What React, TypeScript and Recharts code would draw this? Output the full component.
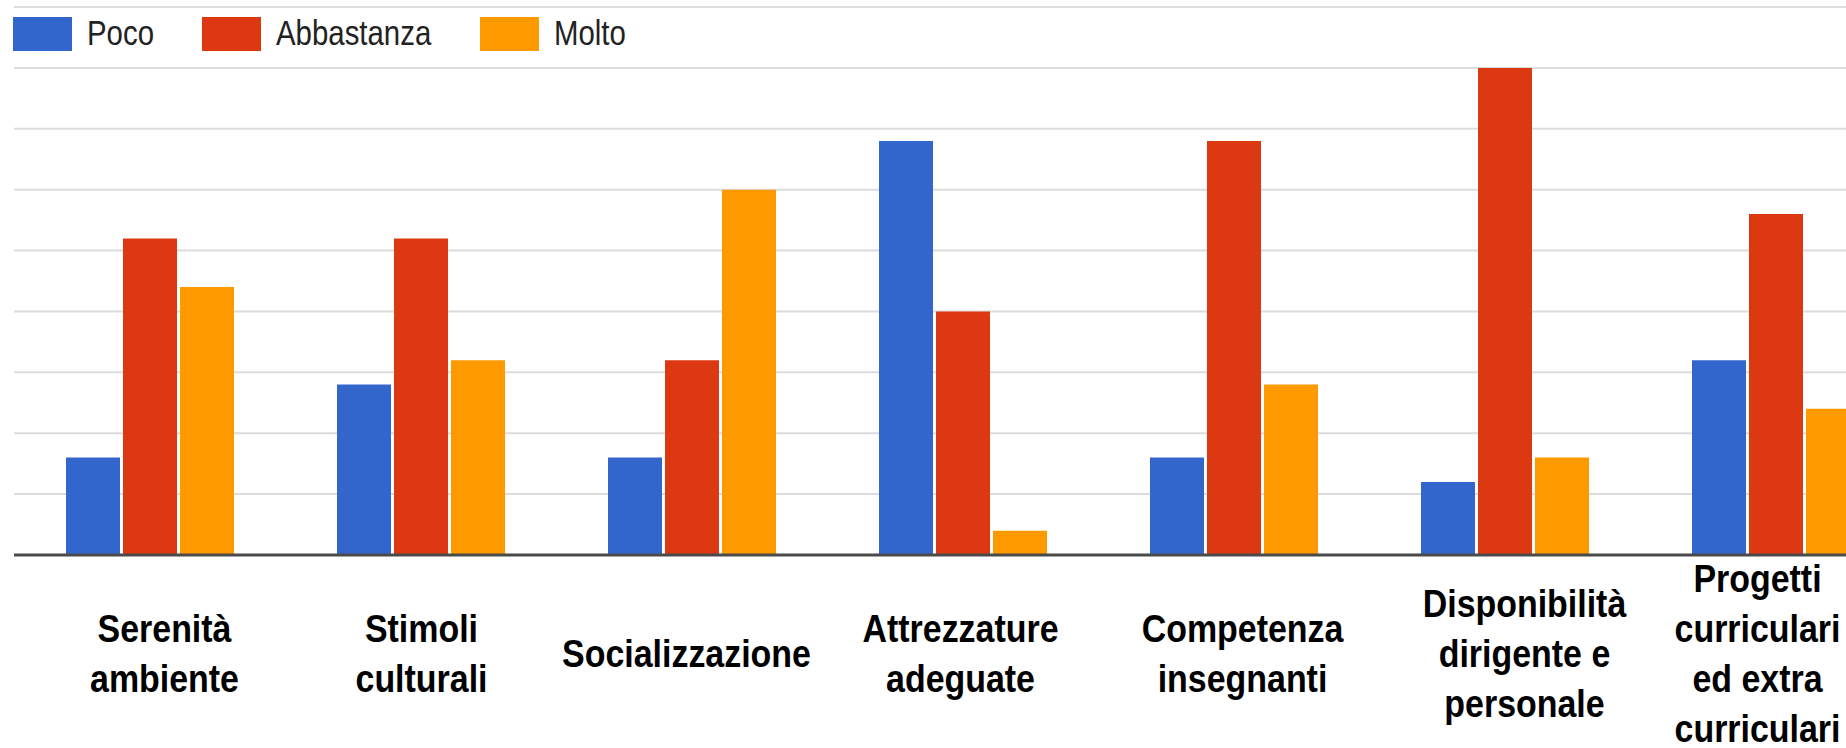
import { Bar, BarChart, CartesianGrid, XAxis, YAxis } from "recharts";

const CATEGORIES = [
  "Serenità\nambiente",
  "Stimoli\nculturali",
  "Socializzazione",
  "Attrezzature\nadeguate",
  "Competenza\ninsegnanti",
  "Disponibilità\ndirigente e\npersonale",
  "Progetti\ncurriculari\ned extra\ncurriculari",
];

const POCO = [8, 14, 8, 34, 8, 6, 16];
const ABBASTANZA = [26, 26, 16, 20, 34, 40, 28];
const MOLTO = [22, 16, 30, 2, 14, 8, 12];

const Y_TICKS = [0, 5, 10, 15, 20, 25, 30, 35, 40, 45];

const SERIES = [
  { key: "poco", name: "Poco", color: "#3366cc" },
  { key: "abbastanza", name: "Abbastanza", color: "#dc3912" },
  { key: "molto", name: "Molto", color: "#ff9900" },
];

const data = CATEGORIES.map((name, i) => ({
  name,
  poco: POCO[i],
  abbastanza: ABBASTANZA[i],
  molto: MOLTO[i],
}));

// the labels in the original are not quite centred under their groups
const LABEL_NUDGE = [15, 1, -5, -2, 9, 20, -18];
const LEGEND_X = [13, 202, 480];

const FONT = "'Liberation Sans', Arial, sans-serif";

function CategoryTick(props: any) {
  const { x, y, payload, index } = props;
  const lines = String(payload.value).split("\n");
  const n = lines.length;
  return (
    <g transform={`translate(${x + (LABEL_NUDGE[index] ?? 0)},${y})`}>
      <text
        transform="scale(0.87,1)"
        textAnchor="middle"
        fontFamily={FONT}
        fontWeight={700}
        fontSize={39}
        fill="#000"
      >
        {lines.map((line, i) => (
          <tspan key={i} x={0} y={112 - (n - 1) * 25 + i * 50}>
            {line}
          </tspan>
        ))}
      </text>
    </g>
  );
}

export default function App() {
  return (
    <div
      style={{
        position: "fixed",
        left: 0,
        top: 0,
        width: 1846,
        height: 748,
        overflow: "hidden",
        background: "#fff",
      }}
    >
      <BarChart
        width={1911}
        height={748}
        data={data}
        margin={{ top: 7, right: 0, left: 14, bottom: 0 }}
        barGap={3}
        barSize={54}
      >
        <CartesianGrid vertical={false} stroke="#dcdcdc" strokeWidth={2} />
        <XAxis
          dataKey="name"
          height={193}
          interval={0}
          tickSize={0}
          tickMargin={0}
          tickLine={false}
          axisLine={{ stroke: "#4a4a4a", strokeWidth: 3 }}
          tick={<CategoryTick />}
        />
        <YAxis hide domain={[0, 45]} ticks={Y_TICKS} />
        {SERIES.map((s) => (
          <Bar
            key={s.key}
            dataKey={s.key}
            name={s.name}
            fill={s.color}
            isAnimationActive={false}
          />
        ))}
      </BarChart>
      <svg
        width={1846}
        height={66}
        style={{ position: "absolute", left: 0, top: 0 }}
      >
        {SERIES.map((s, i) => (
          <g key={s.key} transform={`translate(${LEGEND_X[i]},0)`}>
            <rect x={0} y={17} width={59} height={34} fill={s.color} />
            <g transform="translate(74,45)">
              <text
                transform="scale(0.84,1)"
                fontFamily={FONT}
                fontSize={35}
                fill="#222"
              >
                {s.name}
              </text>
            </g>
          </g>
        ))}
      </svg>
    </div>
  );
}
